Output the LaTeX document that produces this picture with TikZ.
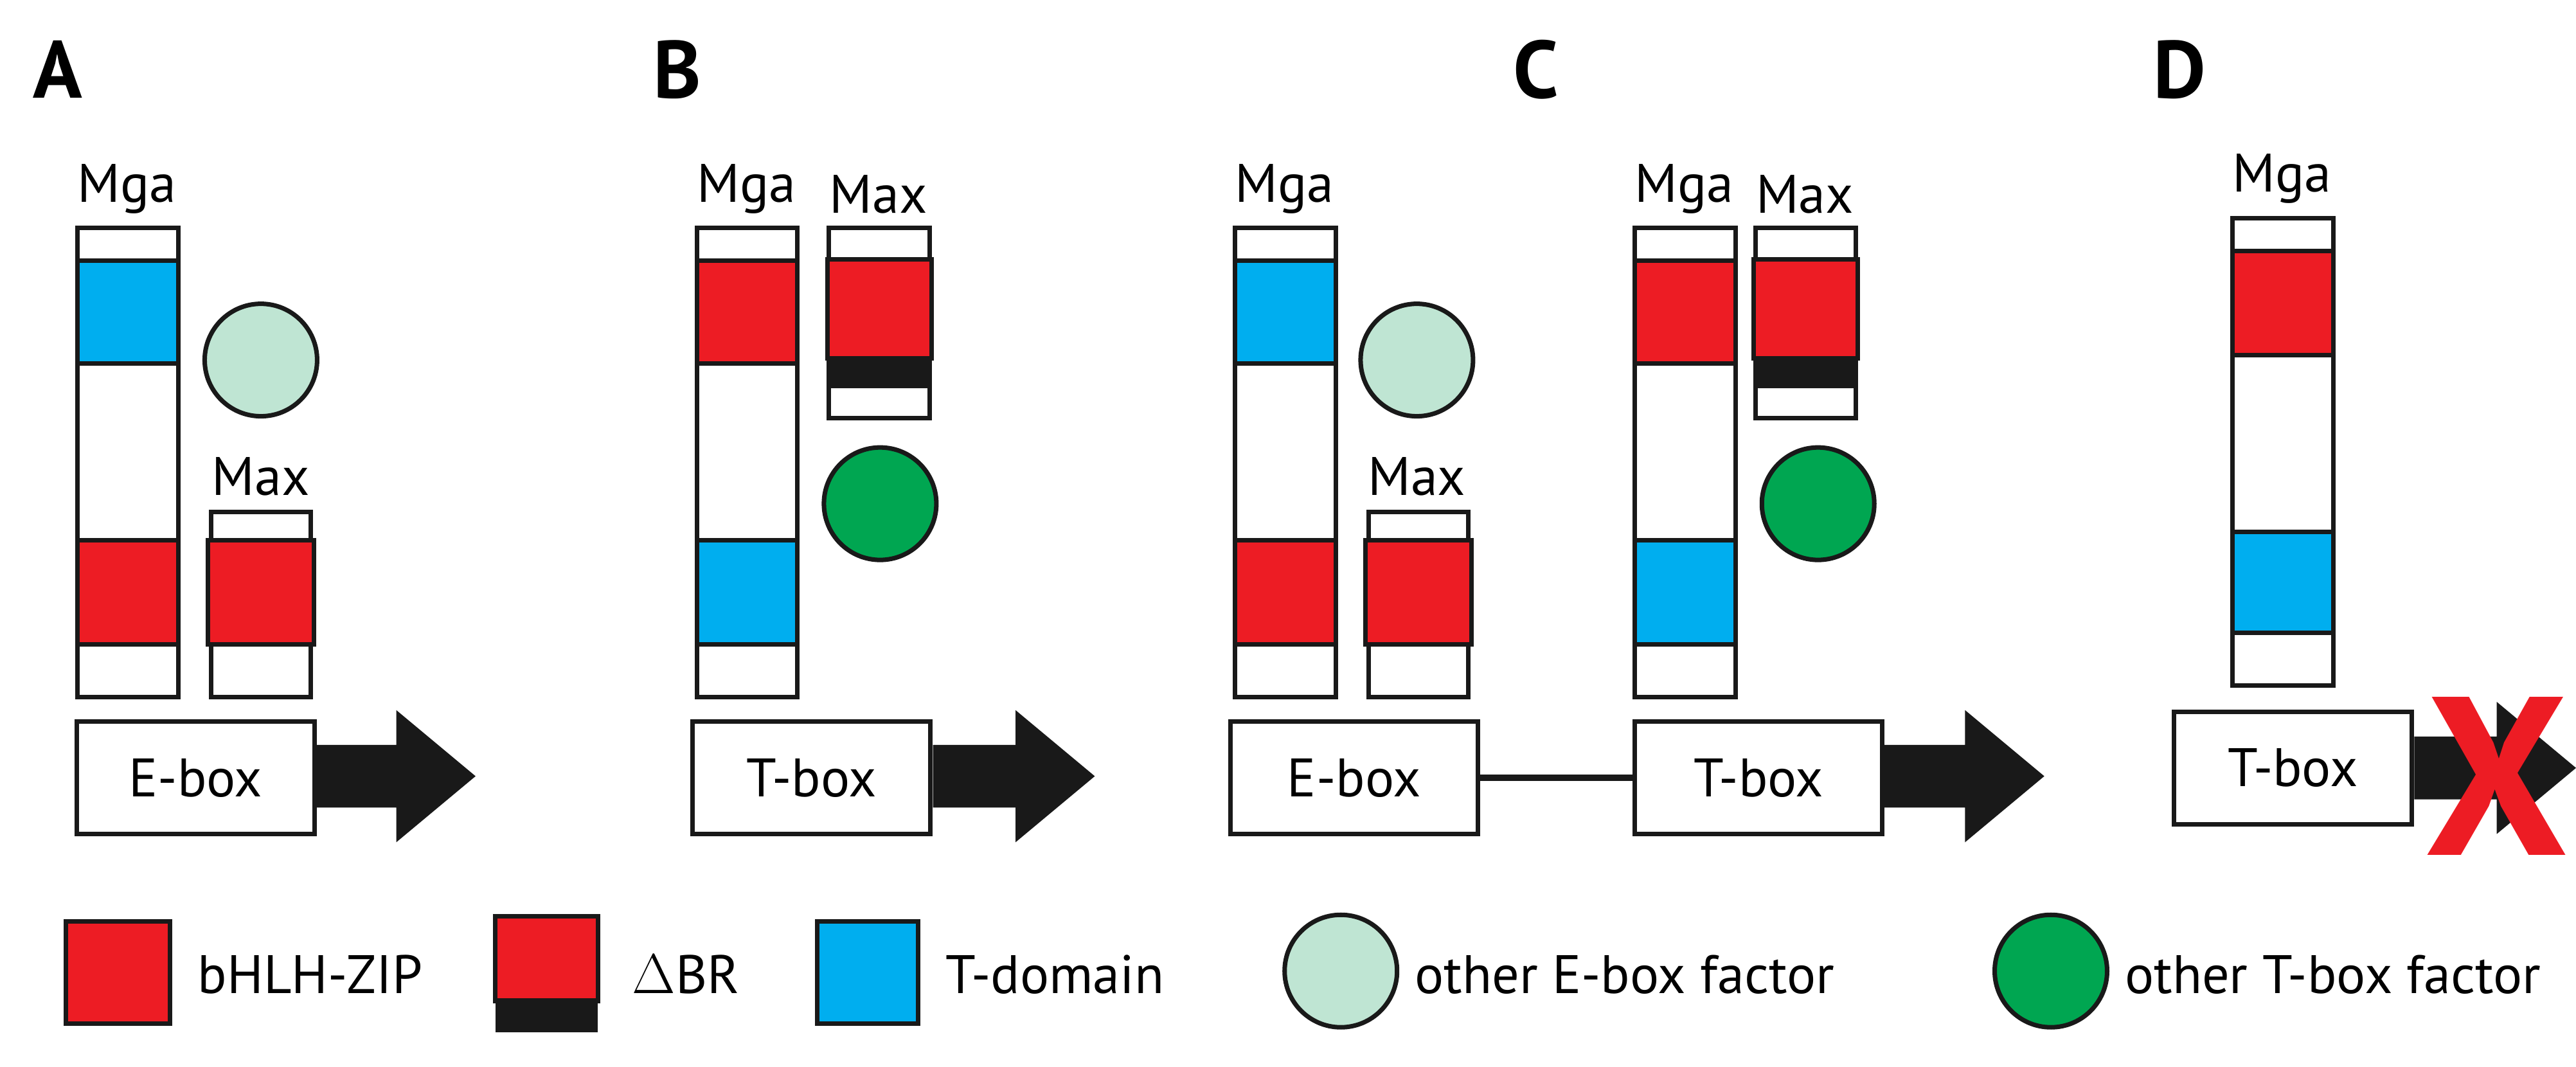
\documentclass[tikz,border=0pt]{standalone}
\usepackage{fontspec}
\setmainfont{PT Sans}
\begin{document}
\begin{tikzpicture}[x=0.025692cm,y=-0.025692cm,
  ol/.style={draw=black!90,line width=2pt},
  red/.style={ol,fill=bred},
  blue/.style={ol,fill=bblue},
  lab/.style={font=\fontsize{24}{27}\selectfont},
  panel/.style={font=\fontsize{36}{38}\selectfont\bfseries},
  ebox/.style={ol,fill=white,minimum width=3.7cm,minimum height=1.75cm,inner sep=0pt,font=\fontsize{24}{27}\selectfont},
  ecirc/.style={circle,ol,fill=lgreen,minimum size=1.75cm,inner sep=0pt},
  tcirc/.style={circle,ol,fill=dgreen,minimum size=1.75cm,inner sep=0pt}]
\definecolor{bred}{HTML}{ED1C24}
\definecolor{bblue}{HTML}{00AEEF}
\definecolor{lgreen}{HTML}{BFE5D3}
\definecolor{dgreen}{HTML}{00A651}
\useasboundingbox (0,0) rectangle (1560,646.1);
\newcommand{\arr}[2]{\fill[black!90] (#1,#2-19) -- (#1+50,#2-19) -- (#1+50,#2-40) -- (#1+98,#2) -- (#1+50,#2+40) -- (#1+50,#2+19) -- (#1,#2+19) -- cycle;}
% panel labels
\node[panel] (pA) at (35,42) {A};
\node[panel] (pB) at (410,42) {B};
\node[panel] (pC) at (930,42) {C};
\node[panel] (pD) at (1320,42) {D};
% ===== A
\node[lab,anchor=south] (mgaA) at (77,134) {Mga};
\draw[ol,fill=white] (47,138) rectangle (108,422);
\draw[blue] (47,158) rectangle (108,220);
\draw[red] (47,327) rectangle (108,390);
\node[ecirc] (ecA) at (158,218) {};
\node[lab,anchor=south] (maxA) at (158,305) {Max};
\draw[ol,fill=white] (128,310) rectangle (188,422);
\draw[red] (126,327) rectangle (190,390);
\node[ebox] (eA) at (118.5,471) {E-box};
\arr{190}{470}
% ===== B
\node[lab,anchor=south] (mgaB) at (452,134) {Mga};
\draw[ol,fill=white] (422,138) rectangle (483,422);
\draw[red] (422,158) rectangle (483,220);
\draw[blue] (422,327) rectangle (483,390);
\node[lab,anchor=south] (maxB) at (532,134) {Max};
\draw[ol,fill=white] (502,138) rectangle (563,253);
\fill[black!90] (501,217) rectangle (564,235);
\draw[red] (501,157) rectangle (564,217);
\node[tcirc] (tcB) at (533,305) {};
\node[ebox] (tB) at (491.5,471) {T-box};
\arr{565}{470}
% ===== C
\node[lab,anchor=south] (mgaC) at (778,134) {Mga};
\draw[ol,fill=white] (748,138) rectangle (809,422);
\draw[blue] (748,158) rectangle (809,220);
\draw[red] (748,327) rectangle (809,390);
\node[ecirc] (ecC) at (858,218) {};
\node[lab,anchor=south] (maxC) at (858,305) {Max};
\draw[ol,fill=white] (829,310) rectangle (889,422);
\draw[red] (827,327) rectangle (891,390);
\node[ebox,minimum width=3.85cm] (eC) at (820,471) {E-box};
\node[ebox,minimum width=3.85cm] (tC) at (1065,471) {T-box};
\draw[black!90,line width=3pt] (eC) -- (tC);
\arr{1140}{470}
\node[lab,anchor=south] (mgaC2) at (1020,134) {Mga};
\draw[ol,fill=white] (990,138) rectangle (1051,422);
\draw[red] (990,158) rectangle (1051,220);
\draw[blue] (990,327) rectangle (1051,390);
\node[lab,anchor=south] (maxC2) at (1093,134) {Max};
\draw[ol,fill=white] (1063,138) rectangle (1124,253);
\fill[black!90] (1062,217) rectangle (1125,235);
\draw[red] (1062,157) rectangle (1125,217);
\node[tcirc] (tcC) at (1101,305) {};
% ===== D
\node[lab,anchor=south] (mgaD) at (1382,128) {Mga};
\draw[ol,fill=white] (1352,132) rectangle (1413,415);
\draw[red] (1352,152) rectangle (1413,215);
\draw[blue] (1352,322) rectangle (1413,383);
\node[ebox] (tD) at (1388.5,465) {T-box};
\arr{1462}{465}
\node[text=bred,font=\fontsize{100}{100}\selectfont\bfseries] (xD) at (1512,470) {X};
% ===== legend
\draw[red] (40,558) rectangle (103,620);
\node[lab,anchor=west] (l1) at (115,590) {bHLH-ZIP};
\fill[black!90] (300,604) rectangle (362,625);
\draw[red] (300,555) rectangle (362,606);
\node[lab,anchor=west] (l2) at (378,590) {$\Delta$BR};
\draw[blue] (495,558) rectangle (556,620);
\node[lab,anchor=west] (l3) at (568,590) {T-domain};
\node[ecirc] (lc1) at (812,588) {};
\node[lab,anchor=west] (l4) at (852,590) {other E-box factor};
\node[tcirc] (lc2) at (1242,588) {};
\node[lab,anchor=west] (l5) at (1282,590) {other T-box factor};
\end{tikzpicture}
\end{document}
